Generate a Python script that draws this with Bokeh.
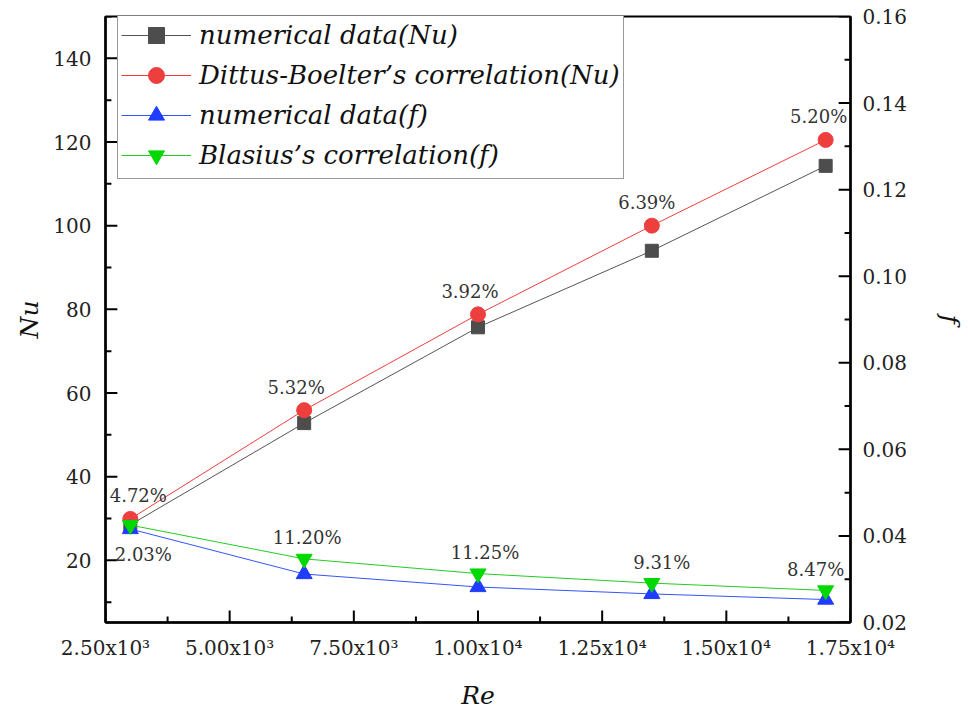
import math
from bokeh.plotting import figure
from bokeh.models import Range1d, LinearAxis, FixedTicker, Legend, ColumnDataSource
from bokeh.core.properties import value
from bokeh.embed import file_html
from bokeh.resources import INLINE

# ---------------- data ----------------
re_vals = [3000, 6500, 10000, 13500, 17000]
nu_numerical = [28.5, 52.8, 75.7, 94.0, 114.3]
nu_dittus = [29.9, 55.9, 78.8, 100.0, 120.5]
f_numerical = [0.0416, 0.0312, 0.0282, 0.0266, 0.0253]
f_blasius = [0.0425, 0.0347, 0.0313, 0.0291, 0.0274]
nu_err_labels = ["4.72%", "5.32%", "3.92%", "6.39%", "5.20%"]
f_err_labels = ["2.03%", "11.20%", "11.25%", "9.31%", "8.47%"]

x_ticks = [2500, 5000, 7500, 10000, 12500, 15000, 17500]
x_tick_labels = ["2.50x10³", "5.00x10³", "7.50x10³", "1.00x10⁴", "1.25x10⁴", "1.50x10⁴", "1.75x10⁴"]
x_minor = [3750, 6250, 8750, 11250, 13750, 16250]
nu_ticks = [20, 40, 60, 80, 100, 120, 140]
nu_minor = [10, 30, 50, 70, 90, 110, 130, 150]
f_ticks = [0.02, 0.04, 0.06, 0.08, 0.10, 0.12, 0.14, 0.16]
f_tick_labels = ["0.02", "0.04", "0.06", "0.08", "0.10", "0.12", "0.14", "0.16"]
f_minor = [0.03, 0.05, 0.07, 0.09, 0.11, 0.13, 0.15]

# label nudges (screen px), styling only
nu_label_dx = [8, -8, -8, -5, -7]
f_label_dx = [13, 3, 7, 10, -10]

X0, X1 = 2500, 17500
Y0, Y1 = 5.14, 150
F0, F1 = 0.02, 0.16
SERIF = "DejaVu Serif"
FRAME_W = 754  # px, frame width (968 - 105 - 109)
FRAME_H = 608  # px, frame height (712 - 16 - 88)

p = figure(width=968, height=712, output_backend="svg", toolbar_location=None,
           x_range=Range1d(X0, X1), y_range=Range1d(Y0, Y1),
           min_border_left=105, min_border_right=109, min_border_top=16, min_border_bottom=88)
p.extra_y_ranges = {"f": Range1d(F0, F1)}
p.grid.visible = False
p.outline_line_color = "black"
p.outline_line_width = 2
p.background_fill_color = "white"
p.border_fill_color = "white"

def style_axis(ax):
    ax.axis_line_width = 2.5
    ax.axis_line_color = "black"
    ax.major_tick_in = 0
    ax.major_tick_out = 0
    ax.minor_tick_in = 0
    ax.minor_tick_out = 0
    ax.major_label_text_font = SERIF
    ax.major_label_text_font_size = "20px"
    ax.major_label_text_color = "#222222"
    ax.axis_label_text_font = SERIF
    ax.axis_label_text_font_style = "italic"
    ax.axis_label_text_font_size = "25px"
    ax.axis_label_text_color = "#111111"

xa = p.xaxis[0]
xa.ticker = FixedTicker(ticks=x_ticks, minor_ticks=x_minor)
xa.major_label_overrides = {t: l for t, l in zip(x_ticks, x_tick_labels)}
xa.axis_label = "Re"
style_axis(xa)
xa.major_label_standoff = 13
xa.axis_label_standoff = 18

ya = p.yaxis[0]
ya.ticker = FixedTicker(ticks=nu_ticks, minor_ticks=nu_minor)
ya.axis_label = "Nu"
style_axis(ya)
ya.major_label_standoff = 14
ya.axis_label_standoff = 6

ra = LinearAxis(y_range_name="f", axis_label="f")
ra.ticker = FixedTicker(ticks=f_ticks, minor_ticks=f_minor)
ra.major_label_overrides = {t: l for t, l in zip(f_ticks, f_tick_labels)}
style_axis(ra)
ra.major_label_standoff = 12
ra.axis_label_standoff = 26
p.add_layout(ra, "right")

# inward ticks
ey = (Y1 - Y0) * 1e-5
tk = dict(length=12, length_units="screen", line_color="black", line_width=2)
tm = dict(length=6, length_units="screen", line_color="black", line_width=2)
p.ray(x=x_ticks, y=[Y0 + ey] * len(x_ticks), angle=math.pi / 2, **tk)
p.ray(x=x_minor, y=[Y0 + ey] * len(x_minor), angle=math.pi / 2, **tm)

# left / right ticks as thin filled bars (2 px thick)
dx_major = (X1 - X0) * 12 / FRAME_W
dx_minor = (X1 - X0) * 6 / FRAME_W
hy = (Y1 - Y0) * 1.0 / FRAME_H
hf = (F1 - F0) * 1.0 / FRAME_H
qd = dict(fill_color="black", line_color=None)
p.quad(left=[X0] * len(nu_ticks), right=[X0 + dx_major] * len(nu_ticks),
       bottom=[v - hy for v in nu_ticks], top=[v + hy for v in nu_ticks], **qd)
p.quad(left=[X0] * len(nu_minor), right=[X0 + dx_minor] * len(nu_minor),
       bottom=[v - hy for v in nu_minor], top=[v + hy for v in nu_minor], **qd)
p.quad(left=[X1 - dx_major] * len(f_ticks), right=[X1] * len(f_ticks),
       bottom=[v - hf for v in f_ticks], top=[v + hf for v in f_ticks], y_range_name="f", **qd)
p.quad(left=[X1 - dx_minor] * len(f_minor), right=[X1] * len(f_minor),
       bottom=[v - hf for v in f_minor], top=[v + hf for v in f_minor], y_range_name="f", **qd)

# ---------------- series ----------------
c_sq, c_sq_line = "#4d4d4d", "#555555"
c_red = "#ee3f3f"
c_blue, c_blue_line = "#1f3cff", "#3355ff"
c_green, c_green_line = "#00d800", "#22cc22"

l1 = p.line(re_vals, nu_numerical, line_color=c_sq_line, line_width=1)
m1 = p.scatter(re_vals, nu_numerical, marker="square", size=13, fill_color=c_sq, line_color=c_sq)
l2 = p.line(re_vals, nu_dittus, line_color=c_red, line_width=1)
m2 = p.scatter(re_vals, nu_dittus, marker="circle", size=15, fill_color=c_red, line_color=c_red)
l3 = p.line(re_vals, f_numerical, line_color=c_blue_line, line_width=1, y_range_name="f")
m3 = p.scatter(re_vals, f_numerical, marker="triangle", size=16, fill_color=c_blue, line_color=c_blue, y_range_name="f")
l4 = p.line(re_vals, f_blasius, line_color=c_green_line, line_width=1, y_range_name="f")
m4 = p.scatter(re_vals, f_blasius, marker="inverted_triangle", size=16, fill_color=c_green, line_color=c_green, y_range_name="f")

# ---------------- annotations ----------------
txt = dict(text_align="center", text_baseline="middle", text_font=value(SERIF),
           text_font_size="18px", text_color="#333333")
src_nu = ColumnDataSource(dict(x=re_vals, y=nu_dittus, t=nu_err_labels, dx=nu_label_dx))
p.text(x="x", y="y", text="t", source=src_nu, x_offset="dx", y_offset=-23, **txt)
src_f = ColumnDataSource(dict(x=re_vals[1:], y=f_blasius[1:], t=f_err_labels[1:], dx=f_label_dx[1:]))
p.text(x="x", y="y", text="t", source=src_f, y_range_name="f", x_offset="dx", y_offset=-21, **txt)
src_f0 = ColumnDataSource(dict(x=re_vals[:1], y=f_numerical[:1], t=f_err_labels[:1], dx=f_label_dx[:1]))
p.text(x="x", y="y", text="t", source=src_f0, y_range_name="f", x_offset="dx", y_offset=25, **txt)

legend = Legend(items=[
    ("numerical data(Nu)", [l1, m1]),
    ("Dittus-Boelter’s correlation(Nu)", [l2, m2]),
    ("numerical data(f)", [l3, m3]),
    ("Blasius’s correlation(f)", [l4, m4]),
], location=(12, 443))
legend.label_text_font = SERIF
legend.label_text_font_style = "italic"
legend.label_text_font_size = "26px"
legend.label_text_color = "#111111"
legend.glyph_width = 70
legend.glyph_height = 40
legend.label_height = 40
legend.label_standoff = 8
legend.spacing = 0
legend.padding = 3
legend.margin = 0
legend.border_line_color = "#333333"
legend.border_line_width = 1
legend.background_fill_color = "white"
legend.background_fill_alpha = 1
p.add_layout(legend)

open("out.html", "w").write(file_html(p, INLINE))
